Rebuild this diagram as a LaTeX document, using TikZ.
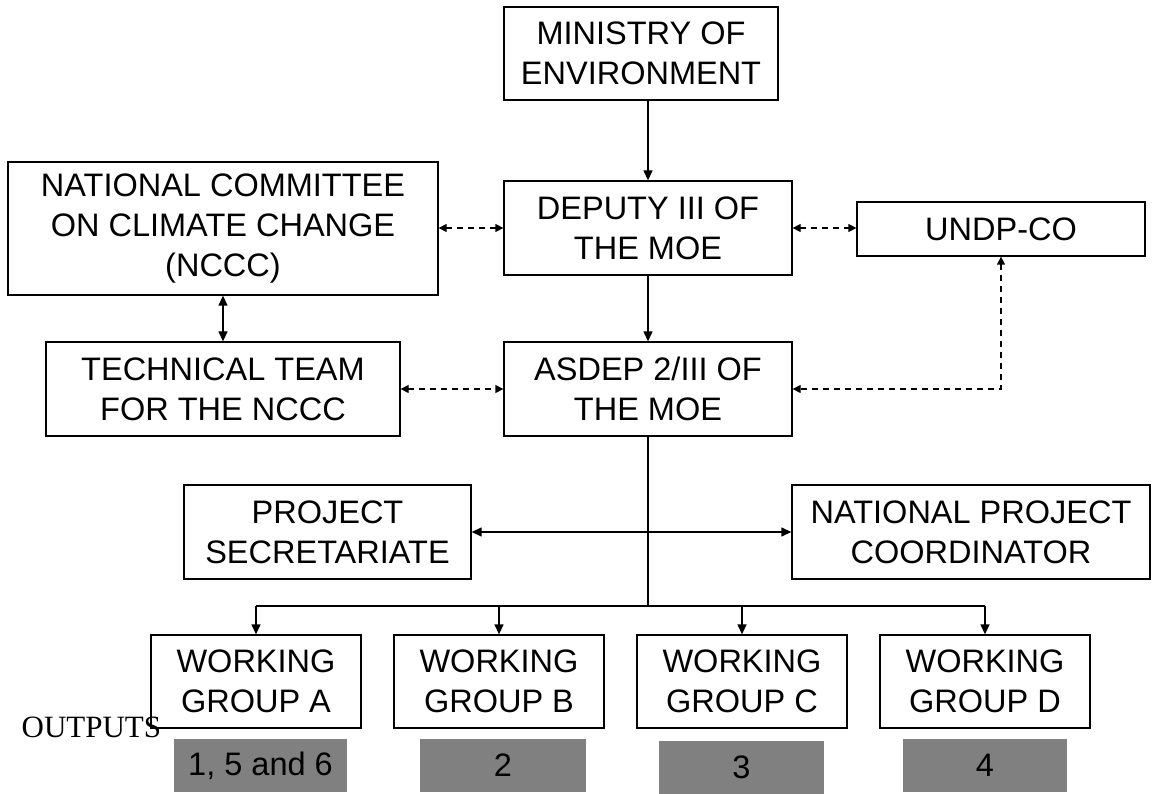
\documentclass[tikz,border=0pt]{standalone}
\usepackage{fontspec}
\usepackage{xcolor}
\setmainfont{Liberation Sans}
\newfontfamily\outfont{Liberation Serif}
\usetikzlibrary{arrows.meta}
\definecolor{outgray}{HTML}{808080}

\begin{document}
\begin{tikzpicture}[x=1pt, y=-1pt, line width=1.3pt,
  every node/.style={font=\fontsize{32.5}{40}\selectfont, align=center, inner sep=0pt},
  box/.style={draw, rectangle},
  outbox/.style={fill=outgray, minimum width=#1, minimum height=53},
  link/.style={-{Triangle[length=10pt, width=9pt]}},
  blink/.style={{Triangle[length=10pt, width=9pt]}-{Triangle[length=10pt, width=9pt]}},
  dlink/.style={{Triangle[length=8pt, width=8pt]}-{Triangle[length=8pt, width=8pt]}, dash pattern=on 6pt off 5pt}]
  \useasboundingbox (0,0) rectangle (1154,794);

  \node[box, minimum width=274, minimum height=93] (ministry) at (641,53.5) {MINISTRY OF\\ENVIRONMENT};
  \node[box, minimum width=430, minimum height=133] (nccc) at (223,228.5) {NATIONAL COMMITTEE\\ON CLIMATE CHANGE\\(NCCC)};
  \node[box, minimum width=288, minimum height=94] (deputy) at (648,228) {DEPUTY III OF\\THE MOE};
  \node[box, minimum width=288, minimum height=54] (undp) at (1001,229) {UNDP-CO};
  \node[box, minimum width=354, minimum height=94] (tech) at (223,389) {TECHNICAL TEAM\\FOR THE NCCC};
  \node[box, minimum width=288, minimum height=94] (asdep) at (648,389) {ASDEP 2/III OF\\THE MOE};
  \node[box, minimum width=287, minimum height=94] (psec) at (327.5,532) {PROJECT\\SECRETARIATE};
  \node[box, minimum width=358, minimum height=94] (npc) at (971,532) {NATIONAL PROJECT\\COORDINATOR};

  \foreach \g/\x in {A/256, B/499, C/742, D/985}
    \node[box, minimum width=210, minimum height=93] (wg\g) at (\x,681.5) {WORKING\\GROUP \g};

  \node[outbox=173] (out1) at (260.5,765.5) {1, 5 and 6};
  \node[outbox=166] (out2) at (503,765.5) {2};
  \node[outbox=165] (out3) at (741.5,767.5) {3};
  \node[outbox=164] (out4) at (985,765.5) {4};
  \node[anchor=base west, font=\outfont\fontsize{31}{36}\selectfont] (outputs) at (21,737) {OUTPUTS};

  \draw[link] (deputy.north |- ministry.south) -- (deputy.north);
  \draw[link] (deputy) -- (asdep);
  \draw[dlink] (nccc.east |- deputy.west) -- (deputy.west);
  \draw[dlink] (deputy.east) -- (undp.west |- deputy.east);
  \draw[blink] (nccc) -- (tech);
  \draw[dlink] (tech) -- (asdep);
  \draw[dlink] (undp.south) |- (asdep.east);

  \coordinate (split) at (648,606);
  \draw (asdep.south) -- (split);
  \draw[blink] (psec) -- (npc);
  \draw (wgA.north |- split) -- (wgD.north |- split);
  \foreach \g in {A,B,C,D}
    \draw[link] (wg\g.north |- split) -- (wg\g.north);
\end{tikzpicture}
\end{document}
